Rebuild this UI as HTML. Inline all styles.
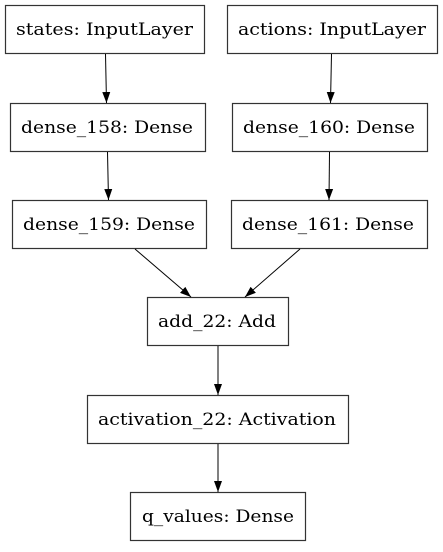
<!DOCTYPE html>
<html><head><style>
html,body{margin:0;padding:0;background:#fff;}
text{font-family:"DejaVu Serif",serif;font-size:17px;}
</style></head><body>
<svg width="443" height="547" viewBox="0 0 443 547" xmlns="http://www.w3.org/2000/svg">
<defs><marker id="a" markerWidth="12" markerHeight="10" refX="11" refY="5" orient="auto" markerUnits="userSpaceOnUse"><path d="M0,1 L11,5 L0,9 z" fill="#000"/></marker></defs>
<g fill="none" stroke="#333" stroke-width="1.2">
<rect x="5.5" y="5.5" width="199" height="48"/>
<rect x="227.5" y="5.5" width="210" height="48"/>
<rect x="10.5" y="103.5" width="195" height="48"/>
<rect x="232.5" y="103.5" width="195" height="48"/>
<rect x="12.5" y="200.5" width="194" height="48"/>
<rect x="231.5" y="200.5" width="196" height="48"/>
<rect x="147.5" y="297.5" width="141" height="48"/>
<rect x="87.5" y="395.5" width="261" height="48"/>
<rect x="130.5" y="492.5" width="175" height="48"/>
</g>
<g stroke="#000" stroke-width="1" marker-end="url(#a)">
<line x1="105.5" y1="54" x2="106.5" y2="103"/>
<line x1="331.5" y1="54" x2="330.5" y2="103"/>
<line x1="107.5" y1="152" x2="108.5" y2="200"/>
<line x1="329.5" y1="152" x2="329" y2="200"/>
<line x1="135" y1="249" x2="191" y2="297"/>
<line x1="300" y1="249" x2="245" y2="297"/>
<line x1="218" y1="346" x2="218" y2="395"/>
<line x1="218" y1="444" x2="218" y2="492"/>
</g>
<g fill="#000" lengthAdjust="spacingAndGlyphs">
<text x="16" y="35" textLength="177" lengthAdjust="spacingAndGlyphs">states: InputLayer</text>
<text x="238" y="35" textLength="188" lengthAdjust="spacingAndGlyphs">actions: InputLayer</text>
<text x="21" y="133" textLength="172" lengthAdjust="spacingAndGlyphs">dense_158: Dense</text>
<text x="243" y="133" textLength="172" lengthAdjust="spacingAndGlyphs">dense_160: Dense</text>
<text x="23" y="230" textLength="172" lengthAdjust="spacingAndGlyphs">dense_159: Dense</text>
<text x="242" y="230" textLength="172" lengthAdjust="spacingAndGlyphs">dense_161: Dense</text>
<text x="158" y="327" textLength="118" lengthAdjust="spacingAndGlyphs">add_22: Add</text>
<text x="98" y="425" textLength="238" lengthAdjust="spacingAndGlyphs">activation_22: Activation</text>
<text x="142" y="522" textLength="152" lengthAdjust="spacingAndGlyphs">q_values: Dense</text>
</g>
</svg>
</body></html>
